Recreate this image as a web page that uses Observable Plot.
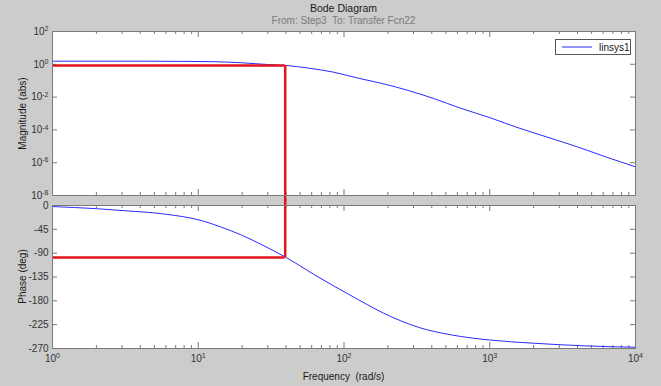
<!DOCTYPE html>
<html>
<head>
<meta charset="utf-8">
<script src="https://cdn.jsdelivr.net/npm/d3@7"></script>
<script src="https://cdn.jsdelivr.net/npm/@observablehq/plot@0.6"></script>
<style>
  html, body { margin: 0; padding: 0; background: #cccccc; }
  #wrap { position: relative; width: 661px; height: 386px; background: #cccccc; overflow: hidden;
          font-family: "Liberation Sans", Arial, Helvetica, sans-serif; font-size: 10px; }
  .abs { position: absolute; }
  #title { left: 52px; width: 583px; top: 2px; text-align: center; color: #1a1a1a; font-size: 10.5px; }
  #subtitle { left: 52px; width: 583px; top: 15px; text-align: center; color: #7a7a7a; font-size: 10px; }
  #xlabel { left: 52px; width: 583px; top: 371px; text-align: center; color: #1a1a1a; font-size: 10px; }
  .ylabel { width: 160px; text-align: center; color: #1a1a1a; font-size: 10px; transform: rotate(-90deg); transform-origin: center center; }
  #legend { left: 555px; top: 39px; width: 76px; height: 16px; background: #fff; border: 1px solid #555; box-sizing: border-box;
            display: flex; align-items: center; color: #1a1a1a; font-size: 10px; }
</style>
</head>
<body>
<div id="wrap">
  <div id="title" class="abs">Bode Diagram</div>
  <div id="subtitle" class="abs">From: Step3&nbsp; To: Transfer Fcn22</div>
  <div id="topPlot" class="abs" style="left:0;top:25px;"></div>
  <div id="botPlot" class="abs" style="left:0;top:199px;"></div>
  <div class="abs ylabel" style="left:-58px;top:108px;">Magnitude (abs)</div>
  <div class="abs ylabel" style="left:-58px;top:271px;">Phase (deg)</div>
  <div id="xlabel" class="abs">Frequency&nbsp; (rad/s)</div>
  <div id="legend" class="abs"></div>
</div>
<script>
// ---- data ----
const magFreq   = [1, 2, 4, 7.9, 12.6, 20, 29.5, 40, 56, 85, 126, 186, 282, 417, 631, 1000, 1585, 2512, 3981, 6310, 10000];
const magValues = [1.55, 1.55, 1.55, 1.51, 1.45, 1.23, 0.98, 0.85, 0.60, 0.33, 0.141, 0.065, 0.024, 0.0079, 0.0021, 5.6e-4, 1.3e-4, 3.5e-5, 9.3e-6, 2.2e-6, 5.6e-7];
const phaseFreq   = [1, 2, 3.2, 5.8, 10.7, 14.1, 19.5, 28.2, 40, 50, 62, 110, 186, 324, 537, 1000, 1995, 4467, 10000];
const phaseValues = [-2, -6, -10, -16, -29, -40, -55, -76, -98, -114, -130, -169, -203, -230, -244, -254, -260, -265, -267.6];

// red annotation box
const markerFreq  = 39.5;
const markerMag   = 0.85;
const markerPhase = -98;

// axes
const freqDomain   = [1, 10000];
const magDomain    = [1e-8, 1e2];
const phaseDomain  = [-270, 0];
const freqMajorTicks = [1, 10, 100, 1000, 10000];
const freqMinorTicks = d3.scaleLog().domain(freqDomain).ticks().filter(d => !freqMajorTicks.includes(d));
const magTicks   = [1e2, 1e0, 1e-2, 1e-4, 1e-6, 1e-8];
const phaseTicks = [0, -45, -90, -135, -180, -225, -270];
const seriesName = "linsys1";

// ---- style ----
const FONT = '"Liberation Sans", Arial, Helvetica, sans-serif';
const AXIS = "#7a7a7a";
const LINE = "#2a2aff";
const RED = "#e0161b";
const W = 661, ML = 52, MR = 26;
const FW = W - ML - MR;

const expFmt = d => "10^" + Math.round(Math.log10(d));

function freqTicks(frameH) {
  return [
    Plot.tickX(freqMinorTicks, {x: d => d, stroke: AXIS, insetTop: frameH - 3}),
    Plot.tickX(freqMinorTicks, {x: d => d, stroke: AXIS, insetBottom: frameH - 3}),
    Plot.tickX(freqMajorTicks, {x: d => d, stroke: AXIS, insetTop: frameH - 6}),
    Plot.tickX(freqMajorTicks, {x: d => d, stroke: AXIS, insetBottom: frameH - 6})
  ];
}
function yTicks(ticks) {
  return [
    Plot.tickY(ticks, {y: d => d, stroke: AXIS, insetRight: FW - 5}),
    Plot.tickY(ticks, {y: d => d, stroke: AXIS, insetLeft: FW - 5})
  ];
}

// ---- magnitude panel ----
const topH = 176, topMT = 6, topMB = 6;
const topFH = topH - topMT - topMB;
const topPlot = Plot.plot({
  width: W, height: topH,
  marginTop: topMT, marginBottom: topMB, marginLeft: ML, marginRight: MR,
  style: {background: "transparent", fontFamily: FONT, fontSize: "10px", color: "#333", overflow: "visible"},
  x: {type: "log", domain: freqDomain, axis: null},
  y: {type: "log", domain: magDomain, axis: null},
  marks: [
    Plot.frame({fill: "white", stroke: null}),
    Plot.axisY(magTicks, {label: null, tickSize: 0, tickPadding: 4, tickFormat: expFmt, fill: "#333"}),
    ...freqTicks(topFH),
    ...yTicks(magTicks),
    Plot.line(magFreq.map((f, i) => ({f, m: magValues[i]})), {x: "f", y: "m", stroke: LINE, strokeWidth: 1, curve: "monotone-x"}),
    Plot.ruleY([markerMag], {y: d => d, x1: freqDomain[0], x2: markerFreq, stroke: RED, strokeWidth: 2.5}),
    Plot.ruleX([markerFreq], {x: d => d, y1: markerMag, y2: magDomain[0], insetBottom: -6, stroke: RED, strokeWidth: 2.5}),
    Plot.frame({stroke: AXIS, strokeWidth: 1})
  ]
});

// ---- phase panel ----
const botH = 187, botMT = 6, botMB = 38;
const botFH = botH - botMT - botMB;
const botPlot = Plot.plot({
  width: W, height: botH,
  marginTop: botMT, marginBottom: botMB, marginLeft: ML, marginRight: MR,
  style: {background: "transparent", fontFamily: FONT, fontSize: "10px", color: "#333", overflow: "visible"},
  x: {type: "log", domain: freqDomain, axis: null},
  y: {domain: phaseDomain, axis: null},
  marks: [
    Plot.frame({fill: "white", stroke: null}),
    Plot.axisY(phaseTicks, {label: null, tickSize: 0, tickPadding: 4, tickFormat: d => String(d), fill: "#333"}),
    Plot.axisX(freqMajorTicks, {label: null, anchor: "bottom", tickSize: 0, tickPadding: 6, tickFormat: expFmt, fill: "#333"}),
    ...freqTicks(botFH),
    ...yTicks(phaseTicks),
    Plot.line(phaseFreq.map((f, i) => ({f, p: phaseValues[i]})), {x: "f", y: "p", stroke: LINE, strokeWidth: 1, curve: "monotone-x"}),
    Plot.ruleY([markerPhase], {y: d => d, x1: freqDomain[0], x2: markerFreq, stroke: RED, strokeWidth: 2.5}),
    Plot.ruleX([markerFreq], {x: d => d, y1: phaseDomain[1], y2: markerPhase, insetTop: -6, stroke: RED, strokeWidth: 2.5}),
    Plot.frame({stroke: AXIS, strokeWidth: 1})
  ]
});

// turn "10^n" tick labels into 10 with a superscript exponent
function superscripts(svg) {
  svg.querySelectorAll("text").forEach(t => {
    const m = /^10\^(-?\d+)$/.exec(t.textContent);
    if (!m) return;
    t.textContent = "10";
    const ts = document.createElementNS("http://www.w3.org/2000/svg", "tspan");
    ts.setAttribute("dy", "-0.5em");
    ts.setAttribute("font-size", "7px");
    ts.textContent = m[1];
    t.appendChild(ts);
  });
}
superscripts(topPlot);
superscripts(botPlot);

document.getElementById("topPlot").appendChild(topPlot);
document.getElementById("botPlot").appendChild(botPlot);

// legend
const lg = document.getElementById("legend");
lg.innerHTML = `<svg width="36" height="14" style="margin-left:4px"><line x1="2" x2="32" y1="7" y2="7" stroke="${LINE}" stroke-width="1"/></svg><span style="margin-left:3px">${seriesName}</span>`;
</script>
</body>
</html>
